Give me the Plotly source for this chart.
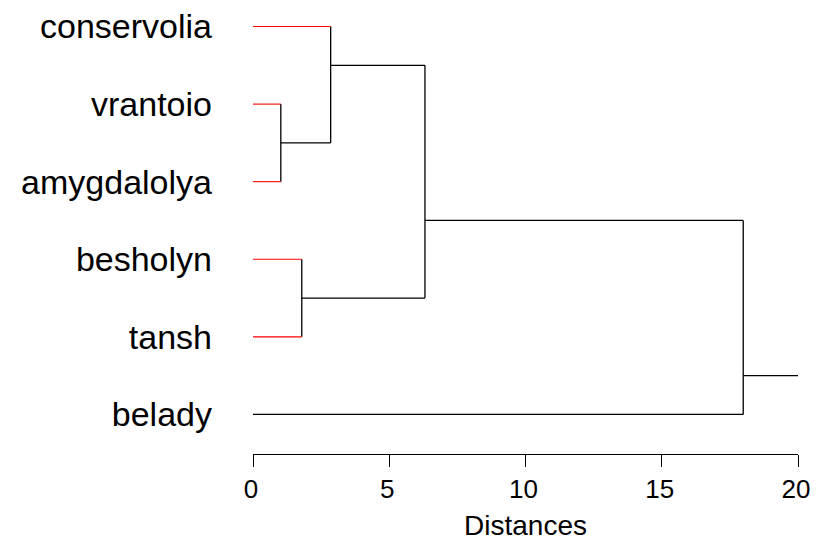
import plotly.graph_objects as go

# ---- data ----
leaf_labels = ["conservolia", "vrantoio", "amygdalolya", "besholyn", "tansh", "belady"]
leaf_colors = ["red", "red", "red", "red", "red", "black"]

# internal nodes: merge height, drawn y position of outgoing branch, children
node_heights = [1.02, 2.85, 1.79, 6.31, 17.99]
node_ypos = [1.5, 0.5, 3.5, 2.5, 4.5]
# children: ("L", i) leaf index, ("N", j) node index
node_children = [
    [("L", 1), ("L", 2)],
    [("L", 0), ("N", 0)],
    [("L", 3), ("L", 4)],
    [("N", 1), ("N", 2)],
    [("N", 3), ("L", 5)],
]
root_tail = 20
x_ticks = [0, 5, 10, 15, 20]

# ---- build segments ----
red_x, red_y, blk_x, blk_y = [], [], [], []

def add(xs, ys, color):
    if color == "red":
        red_x.extend(xs + [None]); red_y.extend(ys + [None])
    else:
        blk_x.extend(xs + [None]); blk_y.extend(ys + [None])

for n, children in enumerate(node_children):
    h = node_heights[n]
    cy = []
    for kind, idx in children:
        if kind == "L":
            y0, x0, col = idx, 0, leaf_colors[idx]
        else:
            y0, x0, col = node_ypos[idx], node_heights[idx], "black"
        cy.append(y0)
        add([x0, h], [y0, y0], col)
    add([h, h], [min(cy), max(cy)], "black")

add([node_heights[-1], root_tail], [node_ypos[-1], node_ypos[-1]], "black")

fig = go.Figure()
fig.add_trace(go.Scatter(x=blk_x, y=blk_y, mode="lines",
                         line=dict(color="black", width=1.3), cliponaxis=False,
                         hoverinfo="skip", showlegend=False))
fig.add_trace(go.Scatter(x=red_x, y=red_y, mode="lines",
                         line=dict(color="#FF0000", width=1.1), cliponaxis=False,
                         hoverinfo="skip", showlegend=False))

fig.update_layout(
    width=818, height=544, autosize=False,
    margin=dict(l=253, r=9, t=8, b=80),
    paper_bgcolor="white", plot_bgcolor="white",
    font=dict(family="Liberation Sans, Arial, sans-serif", color="black"),
    xaxis=dict(range=[0, 20], tickvals=x_ticks, ticktext=[str(v) for v in x_ticks],
               showgrid=False, zeroline=False, showline=True, linecolor="black",
               linewidth=1, ticks="outside", ticklen=12, tickcolor="black",
               tickfont=dict(size=26), ticklabeloverflow="allow", ticklabelshift=-2,
               title=dict(text="Distances", font=dict(size=28), standoff=12)),
    yaxis=dict(range=[5.51, -0.2], tickvals=list(range(len(leaf_labels))),
               ticktext=leaf_labels, showgrid=False, zeroline=False,
               showline=False, ticks="", tickfont=dict(size=34),
               ticklabelstandoff=40, ticklabeloverflow="allow"),
)

fig.write_html("out.html",
               config={"responsive": False, "displayModeBar": False},
               post_script="document.body.style.margin='0';document.body.style.overflow='hidden';"
                           "document.querySelectorAll('.main-svg').forEach(function(s){s.style.overflow='visible';});")
